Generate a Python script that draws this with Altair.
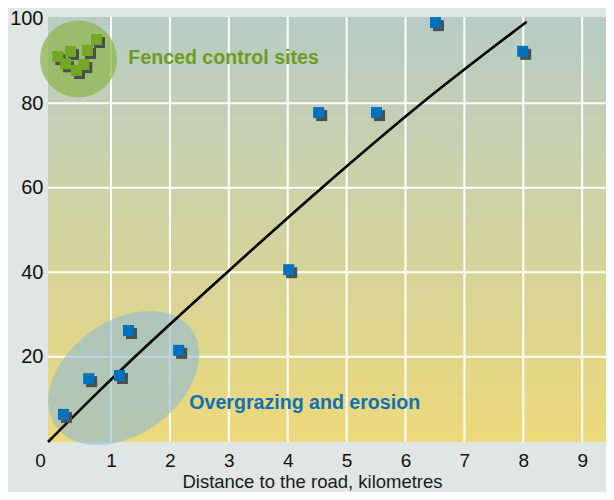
import altair as alt
import pandas as pd

# ---- data ----
blue_x = [0.194, 0.621, 1.144, 1.297, 2.149, 4.017, 4.526, 5.508, 6.509, 7.990]
blue_y = [6.34, 14.8, 15.55, 26.2, 21.5, 40.6, 77.8, 77.8, 99.1, 92.3]
green_x = [0.097, 0.312, 0.228, 0.414, 0.538, 0.601, 0.754]
green_y = [91.07, 92.26, 89.35, 87.76, 89.18, 92.5, 95.1]
fit_x = [-0.07, 0.815, 1.407, 2.964, 4.548, 6.275, 8.058]
fit_y = [-0.19, 12.1, 20.0, 39.9, 59.6, 80.0, 99.3]
x_ticks = [0, 1, 2, 3, 4, 5, 6, 7, 8, 9]
y_ticks = [20, 40, 60, 80, 100]
x_grid = [1, 2, 3, 4, 5, 6, 7, 8, 9]
y_grid = [20, 40, 60, 80]
note_text = ["Fenced control sites", "Overgrazing and erosion"]
note_x = [1.294, 2.329]
note_y = [89.3, 7.62]
note_color = ["#6b9e1f", "#0f70b7"]
circle_x = [0.448]
circle_y = [90.5]
ellipse_x = [1.216]
ellipse_y = [14.96]

W, H = 558, 425
FONT = "Liberation Sans"

blue = pd.DataFrame({"x": blue_x, "y": blue_y})
green = pd.DataFrame({"x": green_x, "y": green_y})
fit = pd.DataFrame({"x": fit_x, "y": fit_y})
notes = pd.DataFrame({"x": note_x, "y": note_y, "t": note_text, "c": note_color})
circ = pd.DataFrame({"x": circle_x, "y": circle_y})
ell = pd.DataFrame({"x": ellipse_x, "y": ellipse_y})
xg = pd.DataFrame({"x": x_grid})
yg = pd.DataFrame({"y": y_grid})

xs = alt.Scale(domain=[-0.0696, 9.404], nice=False, zero=False)
ys = alt.Scale(domain=[-0.19, 100.43], nice=False, zero=False)

x_axis = alt.Axis(
    values=x_ticks, grid=False,
    ticks=False, domain=False, labelFont=FONT, labelFontSize=19, labelColor="#111111",
    labelPadding=9, labelFlush=False, labelOverlap=False,
    labelOffset={"condition": {"test": "datum.value == 0", "value": -12}, "value": 0},
    title="Distance to the road, kilometres", titleFont=FONT, titleFontSize=18.5,
    titleFontWeight="normal", titleColor="#1a1a1a", titleX=264, titleY=45.5,
    titleAlign="center", titleBaseline="alphabetic",
)
y_axis = alt.Axis(
    values=y_ticks, grid=False,
    ticks=False, domain=False, labelFont=FONT, labelFontSize=20, labelColor="#111111",
    labelPadding=5, labelFlush=False, labelOverlap=False, title="",
)

X = alt.X("x:Q", scale=xs, axis=x_axis, title="Distance to the road, kilometres")
Y = alt.Y("y:Q", scale=ys, axis=y_axis, title="")

k = 0.5523
r = 0.681
ell_path = (
    f"M 1 0 C 1 {k*r:.4f} {k} {r} 0 {r} C {-k} {r} -1 {k*r:.4f} -1 0 "
    f"C -1 {-k*r:.4f} {-k} {-r} 0 {-r} C {k} {-r} 1 {-k*r:.4f} 1 0 Z"
)

gradient = alt.LinearGradient(
    gradient="linear", x1=0, y1=0, x2=0, y2=1,
    stops=[alt.GradientStop(offset=0, color="#b7ccc6"),
           alt.GradientStop(offset=1, color="#ecd97a")],
)

bg_layer = alt.Chart(circ).mark_rect(fill=gradient, stroke="transparent").encode(
    x=alt.value(0), x2=alt.value(W), y=alt.value(0), y2=alt.value(H)
)

xgrid_layer = alt.Chart(xg).mark_rule(color="white", strokeWidth=2).encode(x=X)
ygrid_layer = alt.Chart(yg).mark_rule(color="white", strokeWidth=2).encode(y=Y)

circle_layer = alt.Chart(circ).mark_point(
    shape="circle", filled=True, size=5929, color="#8fb54f", opacity=0.75
).encode(x=X, y=Y)

ellipse_layer = alt.Chart(ell).mark_point(
    shape=ell_path, filled=True, size=27822, angle=324.5, color="#8cb9d7", opacity=0.58
).encode(x=X, y=Y)

fit_layer = alt.Chart(fit).mark_line(
    color="black", strokeWidth=2.6, interpolate="monotone"
).encode(x=X, y=Y)

def squares(df, color):
    shadow = alt.Chart(df).mark_point(
        shape="square", filled=True, size=121, color="#4b504e", opacity=1,
        xOffset=3, yOffset=3
    ).encode(x=X, y=Y)
    top = alt.Chart(df).mark_point(
        shape="square", filled=True, size=121, color=color, opacity=1
    ).encode(x=X, y=Y)
    return shadow + top

text_layer = alt.Chart(notes).mark_text(
    align="left", baseline="alphabetic", font=FONT, fontSize=19.6, fontWeight="bold"
).encode(x=X, y=Y, text="t:N", color=alt.Color("c:N", scale=None))

chart = alt.layer(
    bg_layer, xgrid_layer, ygrid_layer,
    circle_layer, ellipse_layer, squares(green, "#74a824"), fit_layer,
    squares(blue, "#0071bc"), text_layer
).properties(
    width=W, height=H,
    autosize=alt.AutoSizeParams(type="none"),
    padding={"left": 40, "top": 9, "right": 0, "bottom": 50},
    background="#dfe6e3",
).configure_view(
    stroke="transparent",
)

chart.save("out.html", embed_options={"renderer": "svg", "actions": False})
